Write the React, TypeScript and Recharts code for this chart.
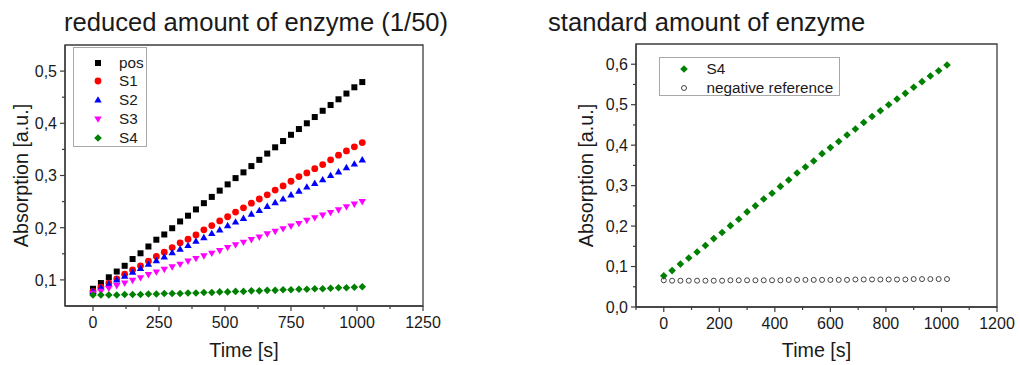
import React from 'react';
import { ScatterChart, Scatter, XAxis, YAxis, ReferenceArea } from 'recharts';

// ---------- data ----------
const TIME = [0, 30, 60, 90, 120, 150, 180, 210, 240, 270, 300, 330, 360, 390, 420, 450, 480, 510, 540, 570, 600, 630, 660, 690, 720, 750, 780, 810, 840, 870, 900, 930, 960, 990, 1020];

const POS = [0.083, 0.094, 0.105, 0.116, 0.127, 0.140, 0.151, 0.164, 0.177, 0.187, 0.199, 0.212, 0.223, 0.235, 0.247, 0.259, 0.271, 0.283, 0.295, 0.306, 0.318, 0.330, 0.342, 0.354, 0.366, 0.378, 0.389, 0.400, 0.412, 0.424, 0.435, 0.446, 0.457, 0.469, 0.479];
const S1 = [0.078, 0.086, 0.094, 0.102, 0.111, 0.119, 0.127, 0.136, 0.145, 0.153, 0.162, 0.171, 0.178, 0.186, 0.196, 0.204, 0.213, 0.221, 0.230, 0.238, 0.247, 0.255, 0.263, 0.272, 0.280, 0.289, 0.298, 0.305, 0.313, 0.321, 0.330, 0.339, 0.347, 0.355, 0.363];
const S2 = [0.078, 0.085, 0.092, 0.100, 0.107, 0.115, 0.122, 0.130, 0.137, 0.144, 0.152, 0.159, 0.166, 0.174, 0.181, 0.189, 0.196, 0.204, 0.211, 0.218, 0.226, 0.233, 0.241, 0.248, 0.255, 0.263, 0.270, 0.278, 0.285, 0.292, 0.300, 0.307, 0.315, 0.322, 0.330];
const S3 = [0.074, 0.078, 0.084, 0.089, 0.094, 0.099, 0.104, 0.110, 0.115, 0.120, 0.125, 0.130, 0.136, 0.141, 0.146, 0.151, 0.156, 0.162, 0.167, 0.172, 0.177, 0.182, 0.188, 0.193, 0.198, 0.203, 0.208, 0.214, 0.219, 0.224, 0.229, 0.234, 0.240, 0.245, 0.250];
const S4_LOW = [0.071, 0.071, 0.071, 0.071, 0.072, 0.072, 0.072, 0.073, 0.073, 0.074, 0.074, 0.074, 0.075, 0.075, 0.076, 0.076, 0.077, 0.077, 0.078, 0.078, 0.079, 0.079, 0.080, 0.080, 0.081, 0.081, 0.082, 0.082, 0.083, 0.083, 0.084, 0.085, 0.085, 0.086, 0.087];

const S4_STD = [0.077, 0.090, 0.106, 0.121, 0.136, 0.152, 0.169, 0.184, 0.201, 0.217, 0.235, 0.250, 0.267, 0.281, 0.298, 0.314, 0.331, 0.346, 0.361, 0.379, 0.394, 0.409, 0.425, 0.440, 0.456, 0.471, 0.485, 0.500, 0.514, 0.528, 0.543, 0.557, 0.571, 0.584, 0.598];
const NEG_REF = [0.066, 0.065, 0.065, 0.065, 0.065, 0.065, 0.065, 0.065, 0.066, 0.066, 0.066, 0.066, 0.066, 0.066, 0.066, 0.067, 0.067, 0.067, 0.067, 0.067, 0.067, 0.067, 0.067, 0.068, 0.068, 0.068, 0.068, 0.068, 0.068, 0.068, 0.069, 0.069, 0.069, 0.069, 0.069];

const LEFT_X_MAJOR = [0, 250, 500, 750, 1000, 1250];
const LEFT_X_LABELS = ['0', '250', '500', '750', '1000', '1250'];
const LEFT_X_MINOR = [125, 375, 625, 875, 1125];
const LEFT_Y_MAJOR = [0.1, 0.2, 0.3, 0.4, 0.5];
const LEFT_Y_LABELS = ['0,1', '0,2', '0,3', '0,4', '0,5'];
const LEFT_Y_MINOR = [0.15, 0.25, 0.35, 0.45];

const RIGHT_X_MAJOR = [0, 200, 400, 600, 800, 1000, 1200];
const RIGHT_X_LABELS = ['0', '200', '400', '600', '800', '1000', '1200'];
const RIGHT_X_MINOR = [-100, 100, 300, 500, 700, 900, 1100];
const RIGHT_Y_MAJOR = [0, 0.1, 0.2, 0.3, 0.4, 0.5, 0.6];
const RIGHT_Y_LABELS = ['0,0', '0,1', '0,2', '0,3', '0,4', '0,5', '0,6'];
const RIGHT_Y_MINOR = [0.05, 0.15, 0.25, 0.35, 0.45, 0.55];

const LEFT_TITLE = 'reduced amount of enzyme (1/50)';
const RIGHT_TITLE = 'standard amount of enzyme';
const X_TITLE = 'Time [s]';
const Y_TITLE = 'Absorption [a.u.]';

// ---------- styles ----------
const FONT = '"Liberation Sans", Arial, Helvetica, sans-serif';
const AXIS = '#3c3c3c';
const TEXT = '#1a1a1a';

const toPts = (ys: number[]) => TIME.map((t, i) => ({ t, v: ys[i] }));

// ---------- marker shapes ----------
type Kind = 'square' | 'circle' | 'up' | 'down' | 'diamond' | 'open';
const COLORS: Record<string, string> = {
  square: '#000000',
  circle: '#ff0000',
  up: '#0000ff',
  down: '#ff00ff',
  diamond: '#008000',
  open: '#444444',
};

function Marker({ kind, cx, cy }: { kind: Kind; cx: number; cy: number }) {
  const c = COLORS[kind];
  switch (kind) {
    case 'square':
      return <rect x={cx - 3} y={cy - 3} width={6} height={6} fill={c} />;
    case 'circle':
      return <circle cx={cx} cy={cy} r={3.4} fill={c} />;
    case 'up':
      return <polygon points={`${cx},${cy - 3.8} ${cx + 3.7},${cy + 2.6} ${cx - 3.7},${cy + 2.6}`} fill={c} />;
    case 'down':
      return <polygon points={`${cx},${cy + 3.8} ${cx + 3.7},${cy - 2.6} ${cx - 3.7},${cy - 2.6}`} fill={c} />;
    case 'diamond':
      return <polygon points={`${cx},${cy - 3.8} ${cx + 3.8},${cy} ${cx},${cy + 3.8} ${cx - 3.8},${cy}`} fill={c} />;
    case 'open':
      return <circle cx={cx} cy={cy} r={2.5} fill="none" stroke={c} strokeWidth={1} />;
  }
  return null;
}

const shapeOf = (kind: Kind) => (p: any) => <Marker kind={kind} cx={p.cx} cy={p.cy} />;

// ---------- ticks ----------
function makeXTick(majors: number[], labels: string[]) {
  return (p: any) => {
    const v = p.payload.value;
    const i = majors.findIndex((m) => Math.abs(m - v) < 1e-9);
    const major = i >= 0;
    return (
      <g>
        <line x1={p.x} x2={p.x} y1={p.y} y2={p.y + (major ? 5 : 3)} stroke={AXIS} strokeWidth={1.2} />
        {major && (
          <text x={p.x} y={p.y + 22} textAnchor="middle" fontSize={16} fill={TEXT} fontFamily={FONT}>
            {labels[i]}
          </text>
        )}
      </g>
    );
  };
}

function makeYTick(majors: number[], labels: string[]) {
  return (p: any) => {
    const v = p.payload.value;
    const i = majors.findIndex((m) => Math.abs(m - v) < 1e-9);
    const major = i >= 0;
    return (
      <g>
        <line x1={p.x - (major ? 5 : 3)} x2={p.x} y1={p.y} y2={p.y} stroke={AXIS} strokeWidth={1.2} />
        {major && (
          <text x={p.x - 8} y={p.y + 5.8} textAnchor="end" fontSize={16} fill={TEXT} fontFamily={FONT}>
            {labels[i]}
          </text>
        )}
      </g>
    );
  };
}

const xTitle = (baseline: number) => (props: any) => {
  const vb = props.viewBox;
  return (
    <text x={vb.x + vb.width / 2} y={baseline} textAnchor="middle" fontSize={19.7} fill={TEXT} fontFamily={FONT}>
      {X_TITLE}
    </text>
  );
};

const yTitle = (bx: number) => (props: any) => {
  const vb = props.viewBox;
  const cy = vb.y + vb.height / 2;
  return (
    <text
      x={bx}
      y={cy}
      transform={`rotate(-90, ${bx}, ${cy})`}
      textAnchor="middle"
      fontSize={19.7}
      fill={TEXT}
      fontFamily={FONT}
    >
      {Y_TITLE}
    </text>
  );
};

// ---------- legend ----------
function LegendBox({
  left,
  top,
  width,
  height,
  items,
  markerX,
  textX,
  rows,
}: {
  left: number;
  top: number;
  width: number;
  height: number;
  items: { kind: Kind; label: string }[];
  markerX: number;
  textX: number;
  rows: number[];
}) {
  return (
    <div
      style={{
        position: 'absolute',
        left,
        top,
        width,
        height,
        boxSizing: 'border-box',
        border: '1px solid #a8a8a8',
        background: '#fff',
      }}
    >
      {items.map((it, i) => (
        <div key={it.label}>
          <svg
            width={12}
            height={12}
            style={{ position: 'absolute', left: markerX - left - 6, top: rows[i] - top - 6, overflow: 'visible' }}
          >
            <Marker kind={it.kind} cx={6} cy={6} />
          </svg>
          <div
            style={{
              position: 'absolute',
              left: textX - left,
              top: rows[i] - top - 9,
              height: 18,
              lineHeight: '18px',
              fontSize: 15.3,
              fontFamily: FONT,
              color: TEXT,
              whiteSpace: 'nowrap',
            }}
          >
            {it.label}
          </div>
        </div>
      ))}
    </div>
  );
}

const titleStyle = (left: number): React.CSSProperties => ({
  position: 'absolute',
  left,
  top: 10,
  fontSize: 25.6,
  lineHeight: '25.6px',
  fontFamily: FONT,
  color: TEXT,
  whiteSpace: 'nowrap',
});

export default function App() {
  const LX: [number, number] = [-106, 1250];
  const LY: [number, number] = [0.05, 0.55];
  const RX: [number, number] = [-100, 1200];
  const RY: [number, number] = [0, 0.65];

  return (
    <div style={{ position: 'absolute', left: 0, top: 0, width: 1020, height: 365, background: '#fff', fontFamily: FONT }}>
      <div style={{ position: 'absolute', left: 0, top: 0 }}>
        <ScatterChart width={510} height={365} margin={{ top: 45, right: 87, bottom: 0, left: 0 }}>
          <XAxis
            type="number"
            dataKey="t"
            domain={LX}
            allowDataOverflow
            ticks={[...LEFT_X_MAJOR, ...LEFT_X_MINOR]}
            interval={0}
            tickSize={0}
            tickMargin={0}
            tickLine={false}
            tick={makeXTick(LEFT_X_MAJOR, LEFT_X_LABELS)}
            axisLine={{ stroke: AXIS, strokeWidth: 1.3 }}
            height={59}
            label={{ content: xTitle(357) }}
          />
          <YAxis
            type="number"
            dataKey="v"
            domain={LY}
            allowDataOverflow
            ticks={[...LEFT_Y_MAJOR, ...LEFT_Y_MINOR]}
            interval={0}
            tickSize={0}
            tickMargin={0}
            tickLine={false}
            tick={makeYTick(LEFT_Y_MAJOR, LEFT_Y_LABELS)}
            axisLine={{ stroke: AXIS, strokeWidth: 1.3 }}
            width={65}
            label={{ content: yTitle(28) }}
          />
          <ReferenceArea x1={LX[0]} x2={LX[1]} y1={LY[0]} y2={LY[1]} fill="none" stroke={AXIS} strokeWidth={1.3} />
          <Scatter name="pos" data={toPts(POS)} shape={shapeOf('square')} isAnimationActive={false} />
          <Scatter name="S1" data={toPts(S1)} shape={shapeOf('circle')} isAnimationActive={false} />
          <Scatter name="S2" data={toPts(S2)} shape={shapeOf('up')} isAnimationActive={false} />
          <Scatter name="S3" data={toPts(S3)} shape={shapeOf('down')} isAnimationActive={false} />
          <Scatter name="S4" data={toPts(S4_LOW)} shape={shapeOf('diamond')} isAnimationActive={false} />
        </ScatterChart>
      </div>

      <div style={{ position: 'absolute', left: 510, top: 0 }}>
        <ScatterChart width={510} height={365} margin={{ top: 44, right: 23, bottom: 0, left: 0 }}>
          <XAxis
            type="number"
            dataKey="t"
            domain={RX}
            allowDataOverflow
            ticks={[...RIGHT_X_MAJOR, ...RIGHT_X_MINOR]}
            interval={0}
            tickSize={0}
            tickMargin={0}
            tickLine={false}
            tick={makeXTick(RIGHT_X_MAJOR, RIGHT_X_LABELS)}
            axisLine={{ stroke: AXIS, strokeWidth: 1.3 }}
            height={58}
            label={{ content: xTitle(357) }}
          />
          <YAxis
            type="number"
            dataKey="v"
            domain={RY}
            allowDataOverflow
            ticks={[...RIGHT_Y_MAJOR, ...RIGHT_Y_MINOR]}
            interval={0}
            tickSize={0}
            tickMargin={0}
            tickLine={false}
            tick={makeYTick(RIGHT_Y_MAJOR, RIGHT_Y_LABELS)}
            axisLine={{ stroke: AXIS, strokeWidth: 1.3 }}
            width={126}
            label={{ content: yTitle(83) }}
          />
          <ReferenceArea x1={RX[0]} x2={RX[1]} y1={RY[0]} y2={RY[1]} fill="none" stroke={AXIS} strokeWidth={1.3} />
          <Scatter name="S4" data={toPts(S4_STD)} shape={shapeOf('diamond')} isAnimationActive={false} />
          <Scatter name="negative reference" data={toPts(NEG_REF)} shape={shapeOf('open')} isAnimationActive={false} />
        </ScatterChart>
      </div>

      <div style={titleStyle(64)}>{LEFT_TITLE}</div>
      <div style={titleStyle(548)}>{RIGHT_TITLE}</div>

      <LegendBox
        left={73}
        top={47}
        width={74}
        height={100}
        markerX={97}
        textX={118}
        rows={[61.7, 80.3, 99, 118, 136.7]}
        items={[
          { kind: 'square', label: 'pos' },
          { kind: 'circle', label: 'S1' },
          { kind: 'up', label: 'S2' },
          { kind: 'down', label: 'S3' },
          { kind: 'diamond', label: 'S4' },
        ]}
      />
      <LegendBox
        left={659}
        top={57}
        width={181}
        height={39}
        markerX={683}
        textX={705.5}
        rows={[67.7, 86.7]}
        items={[
          { kind: 'diamond', label: 'S4' },
          { kind: 'open', label: 'negative reference' },
        ]}
      />
    </div>
  );
}
